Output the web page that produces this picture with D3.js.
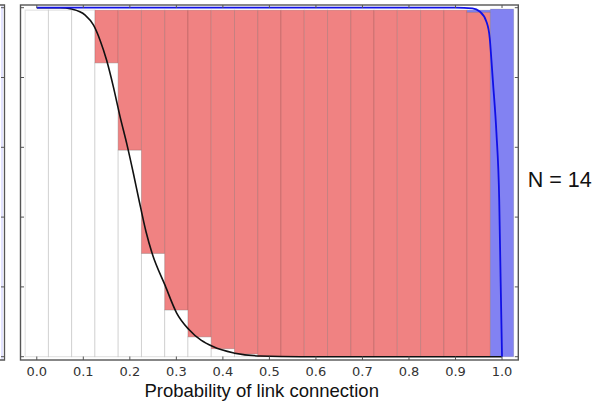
<!DOCTYPE html>
<html><head><meta charset="utf-8">
<script src="https://cdn.jsdelivr.net/npm/d3@7"></script>
<style>html,body{margin:0;padding:0;background:#fff;}svg{display:block;}</style>
</head><body>
<svg id="chart" width="605" height="402"></svg>
<script>
// ---- data ----
const binCenters = [0,0.05,0.1,0.15,0.2,0.25,0.3,0.35,0.4,0.45,0.5,0.55,0.6,0.65,0.7,0.75,0.8,0.85,0.9,0.95,1.0];
const whiteFrac  = [0.993,0.993,0.993,0.842,0.592,0.296,0.134,0.057,0.023,0.008,0,0,0,0,0,0,0,0,0,0,0];
const redFrac    = [0,0,0,0.151,0.401,0.697,0.859,0.936,0.970,0.985,0.993,0.993,0.993,0.993,0.993,0.993,0.993,0.993,0.993,0.987,0];
const blueFrac   = [0,0,0,0,0,0,0,0,0,0,0,0,0,0,0,0,0,0,0,0.006,0.996];

const blackP = [0,0.05,0.075,0.104,0.122,0.136,0.15,0.1645,0.179,0.1935,0.2077,0.2197,0.2348,0.2477,0.2756,0.3007,0.3275,0.3787,0.426,0.48,0.566,0.7,0.85,1.0];
const blackV = [1,1,0.996,0.979,0.950,0.907,0.850,0.774,0.688,0.61,0.525,0.449,0.358,0.297,0.205,0.125,0.077,0.029,0.010,0.002,0,0,0,0];

const blueP = [0,0.5,0.9,0.9366,0.9521,0.9665,0.9736,0.9772,0.9807,0.988,0.994,0.997,1.0];
const blueV = [1,1,1,0.998,0.989,0.960,0.913,0.850,0.784,0.641,0.449,0.22,0];

const xTicks = [0,0.1,0.2,0.3,0.4,0.5,0.6,0.7,0.8,0.9,1.0];
const yTicks = [0,0.2,0.4,0.6,0.8,1.0];
const xTitle = "Probability of link connection";
const panelLabel = "N = 14";

// ---- layout ----
const frame = {left:20.5, right:518.3, top:5, bottom:360};
const svg = d3.select("#chart");
const x = d3.scaleLinear().domain([-0.035, 1.035]).range([frame.left, frame.right]);
const y = d3.scaleLinear().domain([0, 1]).range([356.7, 7.7]);
const binW = 0.05;

// left sliver of neighbouring panel
const sl = svg.append("g");
sl.append("line").attr("x1",2).attr("x2",2).attr("y1",frame.top).attr("y2",frame.bottom)
  .attr("stroke","rgba(90,90,255,0.35)").attr("stroke-width",1);
sl.append("path").attr("d",`M0,${frame.top}H4.5V${frame.bottom}H0`)
  .attr("fill","none").attr("stroke","#555").attr("stroke-width",1.3);
yTicks.forEach(t=>{
  sl.append("line").attr("x1",4.5).attr("x2",1).attr("y1",y(t)).attr("y2",y(t))
    .attr("stroke","#555").attr("stroke-width",1);
});

// bars
const bars = svg.append("g");
const stackRows = binCenters.map((c,i)=>({c, w:whiteFrac[i], r:redFrac[i], b:blueFrac[i]}));
function seg(c, v0, v1, fill){
  if (v1 - v0 <= 0) return;
  bars.append("rect")
    .attr("x", x(c - binW/2)).attr("width", x(c + binW/2) - x(c - binW/2))
    .attr("y", y(v1)).attr("height", y(v0) - y(v1))
    .attr("fill", fill).attr("stroke","rgba(0,0,0,0.13)").attr("stroke-width",1);
}
stackRows.forEach(d=>{
  seg(d.c, 0, d.w, "#ffffff");
  seg(d.c, d.w, d.w + d.r, "#f08282");
  seg(d.c, d.w + d.r, d.w + d.r + d.b, "#8282f2");
});

// curves
const line = d3.line().x(d=>x(d[0])).y(d=>y(d[1])).curve(d3.curveMonotoneX);
svg.append("path").datum(blackP.map((p,i)=>[p,blackV[i]]))
  .attr("d",line).attr("fill","none").attr("stroke","#111").attr("stroke-width",1.6);
svg.append("path").datum(blueP.map((p,i)=>[p,blueV[i]]))
  .attr("d",line).attr("fill","none").attr("stroke","#1010e6").attr("stroke-width",1.8);

// frame
svg.append("rect").attr("x",frame.left).attr("y",frame.top)
  .attr("width",frame.right-frame.left).attr("height",frame.bottom-frame.top)
  .attr("fill","none").attr("stroke","#555").attr("stroke-width",1.4);

// ticks on all sides
const tk = svg.append("g").attr("stroke","#555").attr("stroke-width",1);
xTicks.forEach(t=>{
  tk.append("line").attr("x1",x(t)).attr("x2",x(t)).attr("y1",frame.bottom).attr("y2",frame.bottom-3.5);
  tk.append("line").attr("x1",x(t)).attr("x2",x(t)).attr("y1",frame.top).attr("y2",frame.top+3);
});
yTicks.forEach(t=>{
  tk.append("line").attr("x1",frame.left).attr("x2",frame.left+3.5).attr("y1",y(t)).attr("y2",y(t));
  tk.append("line").attr("x1",frame.right).attr("x2",frame.right-3.5).attr("y1",y(t)).attr("y2",y(t));
});

// tick labels
svg.append("g").selectAll("text").data(xTicks).join("text")
  .attr("x",d=>x(d)).attr("y",375.7).attr("text-anchor","middle")
  .attr("font-family","DejaVu Sans, sans-serif").attr("font-size",13).attr("fill","#333")
  .text(d=>d3.format(".1f")(d));

// axis title
svg.append("text").attr("x",(x(0)+x(1))/2 - 7.7).attr("y",397.3).attr("text-anchor","middle")
  .attr("font-family","Liberation Sans, Arial, sans-serif").attr("font-size",18.5).attr("fill","#111")
  .text(xTitle);

// panel label
svg.append("text").attr("x",527.7).attr("y",186.7)
  .attr("font-family","Liberation Sans, Arial, sans-serif").attr("font-size",21.5).attr("fill","#111")
  .text(panelLabel);
</script>
</body></html>
